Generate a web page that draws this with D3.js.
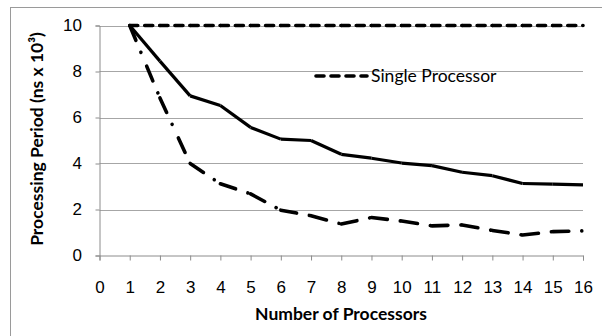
<!DOCTYPE html>
<html>
<head>
<meta charset="utf-8">
<script src="https://cdn.jsdelivr.net/npm/d3@7.9.0/dist/d3.min.js"></script>
<style>
  body { margin: 0; background: #fff; }
  svg { display: block; font-family: Lato, "Open Sans", sans-serif; }
</style>
</head>
<body>
<svg id="chart" width="602" height="336"></svg>
<script>
// ─────────── DATA ───────────
const processors = [1, 2, 3, 4, 5, 6, 7, 8, 9, 10, 11, 12, 13, 14, 15, 16];
const singleProcessor = [10, 10, 10, 10, 10, 10, 10, 10, 10, 10, 10, 10, 10, 10, 10, 10];
const solidSeries = [10, 8.45, 6.94, 6.52, 5.57, 5.06, 5.0, 4.4, 4.23, 4.02, 3.91, 3.62, 3.47, 3.13, 3.1, 3.07];
const dashDotSeries = [10, 6.85, 4.0, 3.12, 2.68, 1.97, 1.73, 1.37, 1.65, 1.5, 1.29, 1.33, 1.09, 0.89, 1.04, 1.07];
const xTicks = d3.range(0, 17);
const yTicks = [0, 2, 4, 6, 8, 10];

const legendLabel = "Single Processor";
const xTitle = "Number of Processors";
const yTitle = "Processing Period (ns x 10³)";

// ─────────── LAYOUT ───────────
const svg = d3.select("#chart");
const plot = { left: 99.5, right: 583, top: 25.5, bottom: 255.5 };

const x = d3.scaleLinear().domain([0, 16]).range([plot.left, plot.right]);
const y = d3.scaleLinear().domain([0, 10]).range([plot.bottom, plot.top]);

// chart frame (only top + left edges fall inside the picture)
svg.append("rect")
  .attr("x", 10.5).attr("y", 7.5)
  .attr("width", 700).attr("height", 400)
  .attr("fill", "none")
  .attr("stroke", "#9a9a9a");

// gridlines
svg.append("g")
  .selectAll("line")
  .data(yTicks.filter(d => d > 0))
  .join("line")
  .attr("x1", plot.left).attr("x2", plot.right)
  .attr("y1", d => Math.round(y(d)) + 0.5).attr("y2", d => Math.round(y(d)) + 0.5)
  .attr("stroke", "#a6a6a6");

// y axis
const yAxis = svg.append("g")
  .attr("transform", `translate(${plot.left},0)`)
  .call(d3.axisLeft(y).tickValues(yTicks).tickSize(4).tickPadding(13.5));
yAxis.select(".domain").attr("stroke", "#8c8c8c");
yAxis.selectAll(".tick line").attr("stroke", "#8c8c8c");
yAxis.selectAll("text").attr("font-size", 17).attr("fill", "#000");

// x axis
const xAxis = svg.append("g")
  .attr("transform", `translate(0,${plot.bottom})`)
  .call(d3.axisBottom(x).tickValues(xTicks).tickSize(5).tickPadding(20));
xAxis.select(".domain").attr("stroke", "#8c8c8c");
xAxis.selectAll(".tick line").attr("stroke", "#8c8c8c");
xAxis.selectAll("text").attr("font-size", 17).attr("fill", "#000");

// ─────────── SERIES ───────────
// Excel restarts the dash pattern on every segment, so draw segment by segment
const line = d3.line().x(d => x(d[0])).y(d => y(d[1]));

function drawSeries(values, style) {
  const pts = processors.map((p, i) => [p, values[i]]);
  const segs = d3.pairs(pts);
  svg.append("g")
    .selectAll("path")
    .data(segs)
    .join("path")
    .attr("d", d => line(d))
    .attr("fill", "none")
    .attr("stroke", "#000")
    .attr("stroke-width", style.width)
    .attr("stroke-linecap", style.cap)
    .attr("stroke-linejoin", "round")
    .attr("stroke-dasharray", style.dash);
}

drawSeries(dashDotSeries, { width: 3.6, cap: "round", dash: "16 13 0.01 15" });
drawSeries(solidSeries, { width: 3.2, cap: "butt", dash: null });
drawSeries(singleProcessor, { width: 3.6, cap: "round", dash: "8 7" });

// ─────────── LEGEND ───────────
const legend = svg.append("g").attr("transform", "translate(316,76)");
legend.append("line")
  .attr("x1", 0).attr("x2", 51)
  .attr("stroke", "#000")
  .attr("stroke-width", 3.6)
  .attr("stroke-linecap", "round")
  .attr("stroke-dasharray", "8 7");
legend.append("text")
  .attr("x", 55).attr("y", 0)
  .attr("dy", "0.35em")
  .attr("font-size", 17.5)
  .text(legendLabel);

// ─────────── TITLES ───────────
svg.append("text")
  .attr("x", 341)
  .attr("y", 320)
  .attr("text-anchor", "middle")
  .attr("font-size", 17.5)
  .attr("font-weight", "bold")
  .text(xTitle);

svg.append("text")
  .attr("transform", `translate(43,139) rotate(-90)`)
  .attr("text-anchor", "middle")
  .attr("font-size", 17.5)
  .attr("font-weight", "bold")
  .text(yTitle);
</script>
</body>
</html>
